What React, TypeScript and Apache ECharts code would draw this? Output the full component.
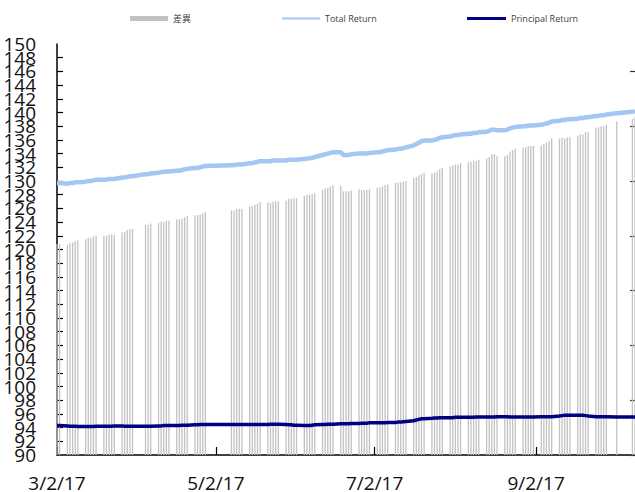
import React, { useEffect, useRef } from 'react';
import * as echarts from 'echarts';

// ---- data ----
const START_DATE = '2017-03-02';
const END_DATE = '2017-10-10';
// weekdays without a published value
const closedDays = [
  '2017-04-03', '2017-04-04',
  '2017-05-01', '2017-05-02', '2017-05-03', '2017-05-04', '2017-05-05',
  '2017-10-02', '2017-10-04', '2017-10-05', '2017-10-06',
];
const tickLabels = ['3/2/17', '5/2/17', '7/2/17', '9/2/17'];

// one value per trading day (Mar..Oct)
const totalReturn = [
  129.7, 129.7, 129.6, 129.7, 129.7, 129.8, 129.8, 129.9, 130.0, 130.0, 130.1, 130.2, 130.2, 130.2, 130.3, 130.3, 130.3, 130.5, 130.5, 130.6, 130.7, 130.7,
  131.0, 131.0, 131.1, 131.2, 131.3, 131.3, 131.4, 131.4, 131.5, 131.5, 131.6, 131.7, 131.8, 131.9, 131.9, 132.0, 132.1, 132.2,
  132.3, 132.3, 132.4, 132.4, 132.4, 132.6, 132.6, 132.7, 132.8, 132.9, 132.9, 132.9, 133.0, 133.0, 133.0, 133.0, 133.1, 133.1,
  133.1, 133.1, 133.2, 133.3, 133.3, 133.4, 133.5, 133.8, 133.9, 134.0, 134.1, 134.2, 134.2, 133.8, 133.8, 133.8, 133.9, 134.0, 134.0, 134.0, 134.0, 134.1,
  134.2, 134.2, 134.3, 134.4, 134.5, 134.6, 134.7, 134.7, 134.8, 134.9, 135.2, 135.4, 135.6, 135.8, 135.9, 135.9, 136.0, 136.1, 136.3, 136.4, 136.5,
  136.6, 136.7, 136.7, 136.8, 136.9, 136.9, 137.0, 137.0, 137.1, 137.2, 137.3, 137.5, 137.5, 137.4, 137.4, 137.5, 137.7, 137.8, 137.9, 138.0, 138.0, 138.1, 138.1,
  138.1, 138.2, 138.3, 138.4, 138.5, 138.7, 138.8, 138.9, 138.9, 139.0, 139.0, 139.1, 139.2, 139.2, 139.3, 139.3, 139.5, 139.5, 139.6, 139.6, 139.7,
  139.9, 140.1, 140.2,
];
const principalReturn = [
  94.3, 94.3, 94.25, 94.2, 94.2, 94.2, 94.15, 94.15, 94.15, 94.15, 94.15, 94.2, 94.2, 94.2, 94.2, 94.2, 94.25, 94.25, 94.2, 94.2, 94.2, 94.2,
  94.2, 94.2, 94.2, 94.25, 94.25, 94.3, 94.3, 94.3, 94.3, 94.3, 94.35, 94.35, 94.35, 94.4, 94.4, 94.45, 94.45, 94.45,
  94.45, 94.45, 94.45, 94.45, 94.45, 94.45, 94.45, 94.45, 94.45, 94.45, 94.45, 94.5, 94.5, 94.5, 94.5, 94.45, 94.4, 94.4,
  94.35, 94.35, 94.3, 94.3, 94.3, 94.35, 94.4, 94.45, 94.45, 94.5, 94.5, 94.5, 94.55, 94.55, 94.55, 94.55, 94.6, 94.6, 94.65, 94.65, 94.65, 94.7,
  94.7, 94.7, 94.7, 94.7, 94.75, 94.75, 94.8, 94.8, 94.85, 94.9, 95.0, 95.1, 95.2, 95.3, 95.3, 95.35, 95.4, 95.4, 95.45, 95.45, 95.45,
  95.45, 95.5, 95.5, 95.5, 95.5, 95.5, 95.5, 95.55, 95.55, 95.55, 95.55, 95.55, 95.55, 95.6, 95.6, 95.6, 95.55, 95.55, 95.55, 95.55, 95.55, 95.55, 95.55,
  95.55, 95.6, 95.6, 95.6, 95.6, 95.6, 95.7, 95.75, 95.8, 95.8, 95.8, 95.8, 95.8, 95.8, 95.75, 95.7, 95.6, 95.6, 95.6, 95.6, 95.6,
  95.55, 95.55, 95.55,
];
const rightAxisTicks = [20, 24, 28, 32, 36, 40, 44, 48];

// ---- build the category axis (calendar days) and series ----
function buildData() {
  const categories: string[] = [];
  const total: (number | null)[] = [];
  const principal: (number | null)[] = [];
  const diff: (number | null)[] = [];
  const start = new Date(START_DATE + 'T00:00:00Z');
  const end = new Date(END_DATE + 'T00:00:00Z');
  let k = 0;
  for (let t = start.getTime(); t <= end.getTime(); t += 86400000) {
    const d = new Date(t);
    const iso = d.toISOString().slice(0, 10);
    const label = `${d.getUTCMonth() + 1}/${d.getUTCDate()}/${String(d.getUTCFullYear()).slice(2)}`;
    categories.push(label);
    const wd = d.getUTCDay();
    if (wd >= 1 && wd <= 5 && !closedDays.includes(iso) && k < totalReturn.length) {
      const tv = totalReturn[k];
      const pv = principalReturn[k];
      total.push(tv);
      principal.push(pv);
      diff.push(Math.round((tv - pv) * 100) / 100);
      k++;
    } else {
      total.push(null);
      principal.push(null);
      diff.push(null);
    }
  }
  return { categories, total, principal, diff };
}

const FONT = "'Open Sans', 'Noto Sans CJK JP', sans-serif";

export default function App() {
  const ref = useRef<HTMLDivElement>(null);
  useEffect(() => {
    const { categories, total, principal, diff } = buildData();
    const chart = echarts.init(ref.current!, null, { renderer: 'svg' });
    const isTick = (_i: number, v: string) => tickLabels.includes(v);
    const legendText = { fontSize: 9, fontFamily: FONT, color: '#404040' };
    const leftLabel = { fontSize: 19, fontFamily: FONT, color: '#111', margin: 21, lineHeight: 12, hideOverlap: false };
    chart.setOption({
      animation: false,
      backgroundColor: '#fff',
      grid: { left: 57, right: 0, top: 44, bottom: 37, containLabel: false, outerBoundsMode: 'none' },
      legend: [
        { left: 125, top: 9, icon: 'rect', itemWidth: 38, itemHeight: 5, data: ['差異'], textStyle: legendText, selectedMode: false },
        { left: 277, top: 9, icon: 'rect', itemWidth: 38, itemHeight: 2, data: ['Total Return'], textStyle: legendText, selectedMode: false },
        { left: 462, top: 9, icon: 'rect', itemWidth: 39, itemHeight: 3, data: ['Principal Return'], textStyle: legendText, selectedMode: false },
      ],
      xAxis: {
        type: 'category',
        data: categories,
        boundaryGap: false,
        axisLine: { show: true, lineStyle: { color: '#000', width: 1.5 } },
        axisTick: { show: true, inside: true, length: 8, interval: isTick, lineStyle: { color: '#000', width: 1.2 } },
        axisLabel: { interval: isTick, margin: 22, lineHeight: 12, fontSize: 19, fontFamily: FONT, color: '#111' },
        splitLine: { show: false },
      },
      yAxis: [
        {
          type: 'value', min: 90, max: 150, interval: 2, position: 'left',
          axisLine: { show: true, lineStyle: { color: '#000', width: 1.5 } },
          axisTick: { show: true, inside: true, length: 6, lineStyle: { color: '#000', width: 1.2 } },
          axisLabel: { ...leftLabel, showMinLabel: false, showMaxLabel: false },
          splitLine: { show: false },
        },
        {
          type: 'value', min: 20, max: 50, interval: 4, position: 'right',
          axisLine: { show: false },
          axisTick: { show: true, inside: true, length: 5, customValues: rightAxisTicks, lineStyle: { color: '#333', width: 1.2 } },
          axisLabel: { show: false },
          splitLine: { show: false },
        },
        {
          // carries only the end labels (90 and 150) of the left scale
          type: 'value', min: 90, max: 150, interval: 60, position: 'left',
          axisLine: { show: false },
          axisTick: { show: false },
          axisLabel: { ...leftLabel, showMinLabel: true, showMaxLabel: true },
          splitLine: { show: false },
        },
      ],
      series: [
        {
          name: '差異', type: 'bar', yAxisIndex: 1, data: diff, barWidth: 1.3,
          itemStyle: { color: '#c2c2c2' }, z: 1,
        },
        {
          name: 'Total Return', type: 'line', yAxisIndex: 0, data: total, connectNulls: true,
          symbol: 'none', color: '#a3c7f0', lineStyle: { color: '#a3c7f0', width: 4.5 }, z: 3,
        },
        {
          name: 'Principal Return', type: 'line', yAxisIndex: 0, data: principal, connectNulls: true,
          symbol: 'none', color: '#000080', lineStyle: { color: '#000080', width: 3.5 }, z: 4,
        },
      ],
    });
    return () => chart.dispose();
  }, []);
  return <div ref={ref} style={{ position: 'absolute', left: 0, top: 0, width: 635, height: 492 }} />;
}
